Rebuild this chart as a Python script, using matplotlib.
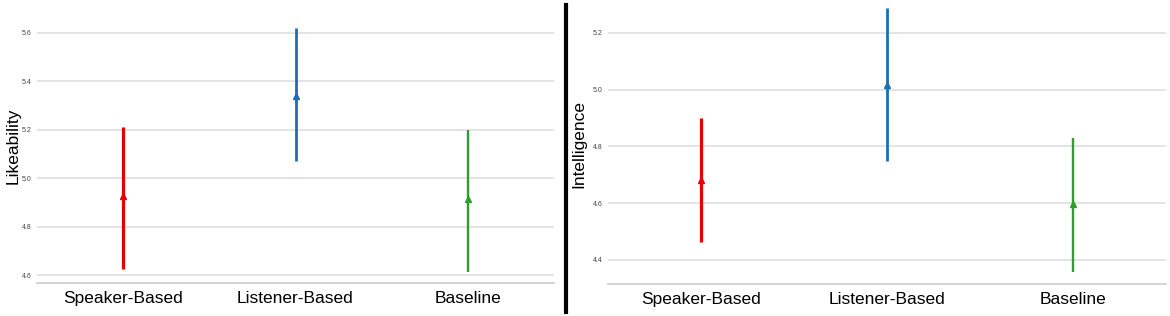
import numpy as np
import matplotlib
matplotlib.use("Agg")
import matplotlib.pyplot as plt
from matplotlib.lines import Line2D

# Data (mean with lower/upper interval bounds)
conditions = ["Speaker-Based", "Listener-Based", "Baseline"]
colors = ["#e60000", "#1f6db5", "#2ca02c"]
line_widths = [2.3, 2.0, 1.7]

like_mean = [4.926, 5.338, 4.913]
like_low = [4.625, 5.072, 4.612]
like_high = [5.212, 5.620, 5.200]
like_ticks = [4.6, 4.8, 5.0, 5.2, 5.4, 5.6]

intel_mean = [4.682, 5.017, 4.597]
intel_low = [4.463, 4.749, 4.358]
intel_high = [4.900, 5.288, 4.830]
intel_ticks = [4.4, 4.6, 4.8, 5.0, 5.2]

plt.rcParams['font.family'] = ['Liberation Sans', 'DejaVu Sans']


def draw_panel(ax, means, lows, highs, ticks, ylim, ylabel, label_x):
    '''
    Draw one panel of vertical intervals with a triangle at the mean
    '''
    x = np.arange(len(conditions))
    for i in range(len(conditions)):
        err = [[means[i] - lows[i]], [highs[i] - means[i]]]
        ax.errorbar(x[i], means[i], yerr=err, fmt='^', color=colors[i],
                    ecolor=colors[i], elinewidth=line_widths[i], capsize=0,
                    markersize=5, zorder=3)
    ax.set_xlim(-0.5, 2.5)
    ax.set_ylim(*ylim)
    ax.set_yticks(ticks)
    ax.set_yticklabels([f"{t:.1f}" for t in ticks], fontsize=5, color="#444444")
    ax.set_xticks(x)
    ax.set_xticklabels(conditions, fontsize=12.5, color="black")
    ax.tick_params(axis='both', length=0)
    ax.tick_params(axis='y', pad=4)
    ax.tick_params(axis='x', pad=6)
    ax.grid(axis='y', color="#dddddd", linewidth=1.1)
    ax.set_axisbelow(True)
    for side in ['top', 'right', 'left']:
        ax.spines[side].set_visible(False)
    ax.spines['bottom'].set_color("#cccccc")
    ax.spines['bottom'].set_linewidth(1.2)
    ax.set_ylabel(ylabel, fontsize=12.5)
    ax.yaxis.set_label_coords(label_x, 0.5)


fig = plt.figure(figsize=(11.7, 3.16), dpi=100)

ax1 = fig.add_axes([37 / 1170, 1 - 283 / 316, 517 / 1170, 275 / 316])
draw_panel(ax1, like_mean, like_low, like_high, like_ticks,
           (4.567, 5.703), "Likeability", -0.031)

ax2 = fig.add_axes([608 / 1170, 1 - 284 / 316, 558 / 1170, 280 / 316])
draw_panel(ax2, intel_mean, intel_low, intel_high, intel_ticks,
           (4.315, 5.302), "Intelligence", -0.038)

# black divider between the two panels
fig.add_artist(Line2D([565.5 / 1170, 565.5 / 1170], [1 - 312 / 316, 1 - 5 / 316],
                      color="black", linewidth=3, transform=fig.transFigure))

fig.savefig("out.png", dpi=100)
